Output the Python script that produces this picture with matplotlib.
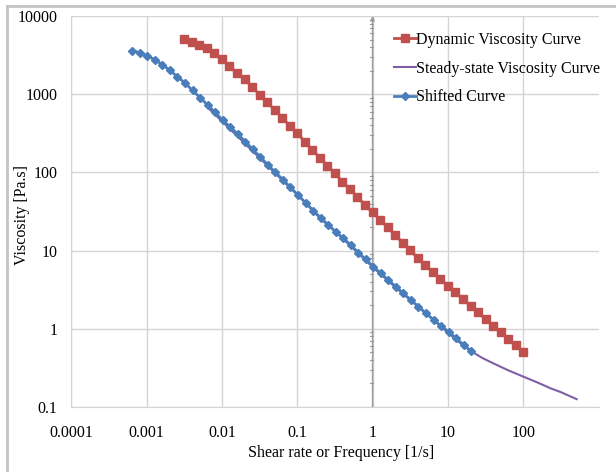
import matplotlib
matplotlib.use("Agg")
import matplotlib.pyplot as plt
import matplotlib.transforms as mtransforms
from matplotlib.lines import Line2D

plt.rcParams["font.family"] = ["Liberation Serif", "DejaVu Serif"]
plt.rcParams["font.size"] = 11.5

# Dynamic viscosity curve (red squares)
dyn_rate = [0.00316, 0.00398, 0.00501, 0.00631, 0.00794, 0.0100, 0.0126, 0.0158,
            0.0200, 0.0251, 0.0316, 0.0398, 0.0501, 0.0631, 0.0794, 0.100, 0.126,
            0.158, 0.200, 0.251, 0.316, 0.398, 0.501, 0.631, 0.794, 1.00, 1.26,
            1.58, 2.00, 2.51, 3.16, 3.98, 5.01, 6.31, 7.94, 10.0, 12.6, 15.8,
            20.0, 25.1, 31.6, 39.8, 50.1, 63.1, 79.4, 100.0]
dyn_visc = [5040, 4610, 4300, 3940, 3330, 2790, 2310, 1880, 1550, 1250, 986,
            794, 628, 501, 395, 316, 247, 195, 154, 122, 97.3, 76.0, 60.8, 48.4,
            38.3, 30.9, 24.6, 19.9, 15.8, 12.6, 10.1, 8.04, 6.55, 5.32, 4.34,
            3.56, 2.93, 2.40, 1.96, 1.63, 1.32, 1.09, 0.910, 0.746, 0.621, 0.509]

# Steady-state viscosity curve (purple line)
ss_rate = [0.00631, 0.0100, 0.0178, 0.0316, 0.0562, 0.100, 0.178, 0.316, 0.562,
           1.00, 1.78, 3.16, 5.62, 10.0, 14.1, 20.0, 28.2, 39.8, 63.1, 100.0,
           158, 229, 316, 513]
ss_visc = [692, 452, 263, 153, 89.1, 51.9, 30.2, 17.8, 10.5, 6.17, 3.76, 2.34,
           1.46, 0.891, 0.676, 0.525, 0.427, 0.363, 0.295, 0.245, 0.204, 0.174,
           0.155, 0.126]

# Shifted curve (blue diamonds)
sh_rate = [0.000646, 0.000813, 0.00102, 0.00129, 0.00162, 0.00204, 0.00257,
           0.00324, 0.00407, 0.00513, 0.00646, 0.00813, 0.0102, 0.0129, 0.0162,
           0.0204, 0.0257, 0.0324, 0.0407, 0.0513, 0.0646, 0.0813, 0.102, 0.129,
           0.162, 0.204, 0.257, 0.324, 0.407, 0.513, 0.646, 0.813, 1.02, 1.29,
           1.62, 2.04, 2.57, 3.24, 4.07, 5.13, 6.46, 8.13, 10.2, 12.9, 16.2, 20.4]
sh_visc = [3600, 3400, 3100, 2760, 2380, 2020, 1670, 1390, 1120, 902, 728, 586,
           468, 380, 310, 247, 197, 157, 125, 100, 80.7, 64.4, 51.4, 41.0, 32.4,
           25.9, 21.2, 17.5, 14.4, 11.8, 9.40, 7.74, 6.22, 5.12, 4.21, 3.45,
           2.84, 2.33, 1.92, 1.58, 1.30, 1.09, 0.918, 0.755, 0.621, 0.520]

xticks = [0.0001, 0.001, 0.01, 0.1, 1, 10, 100]
xlabels = ["0.0001", "0.001", "0.01", "0.1", "1", "10", "100"]
yticks = [0.1, 1, 10, 100, 1000, 10000]
ylabels = ["0.1", "1", "10", "100", "1000", "10000"]

grid_col = "#d4d4d4"
axis_col = "#9a9a9a"

fig = plt.figure(figsize=(6.16, 4.72), dpi=100)
ax = fig.add_axes([0.1157, 0.1377, 0.8559, 0.8284])
ax.set_xscale("log")
ax.set_yscale("log")
ax.set_xlim(1e-4, 1e3)
ax.set_ylim(0.1, 1e4)

ax.plot(dyn_rate, dyn_visc, color="#C0504D", lw=2, marker="s", ms=5.2,
        label="Dynamic Viscosity Curve", zorder=3)
ax.plot(ss_rate, ss_visc, color="#7E5FA6", lw=1.5,
        label="Steady-state Viscosity Curve", zorder=3)
ax.plot(sh_rate, sh_visc, color="#4A7EBB", lw=2, marker="D", ms=3.8,
        label="Shifted Curve", zorder=4)

ax.set_xticks(xticks)
ax.set_xticklabels(xlabels)
ax.set_yticks(yticks)
ax.set_yticklabels(ylabels)
ax.minorticks_off()
ax.tick_params(axis="x", length=0, pad=13)
ax.tick_params(axis="y", length=0, pad=10)
ax.grid(True, which="major", color=grid_col, lw=1)
ax.set_axisbelow(True)
for side in ["top", "right"]:
    ax.spines[side].set_visible(False)
ax.spines["left"].set_color(grid_col)
ax.spines["bottom"].set_color(grid_col)

# vertical axis crossing at x = 1, with arrow and minor ticks
trans = mtransforms.blended_transform_factory(ax.transData, ax.transAxes)
ax.annotate("", xy=(1, 1.0), xycoords=trans, xytext=(1, 0), textcoords=trans,
            arrowprops=dict(arrowstyle="-|>", color=axis_col, lw=1,
                            mutation_scale=6, shrinkA=0, shrinkB=0), zorder=2)
ticks_y = [dec * m for dec in [0.1, 1, 10, 100, 1000] for m in range(2, 10)]
for v in ticks_y:
    ax.plot([0.92, 1.0], [v, v], color=axis_col, lw=0.8, zorder=2)

ax.legend(loc="upper left", bbox_to_anchor=(394 / 616, 1 - 32 / 472),
          bbox_transform=fig.transFigure, frameon=False, borderpad=0,
          borderaxespad=0, handlelength=1.35, handletextpad=0.05,
          labelspacing=0.79, fontsize=11.5)

fig.text(341 / 616, 1 - 453 / 472, "Shear rate or Frequency [1/s]",
         ha="center", va="center", fontsize=11.5)
fig.text(22 / 616, 1 - 215 / 472, "Viscosity [Pa.s]", rotation=90,
         ha="center", va="center", fontsize=11.5)

# outer chart frame (top and left edges visible)
fig.add_artist(Line2D([7 / 616, 1.0], [1 - 6 / 472, 1 - 6 / 472],
                      transform=fig.transFigure, color="#c4c4c4", lw=2))
fig.add_artist(Line2D([7 / 616, 7 / 616], [0, 1 - 6 / 472],
                      transform=fig.transFigure, color="#c4c4c4", lw=2))

fig.savefig("out.png", dpi=100)
